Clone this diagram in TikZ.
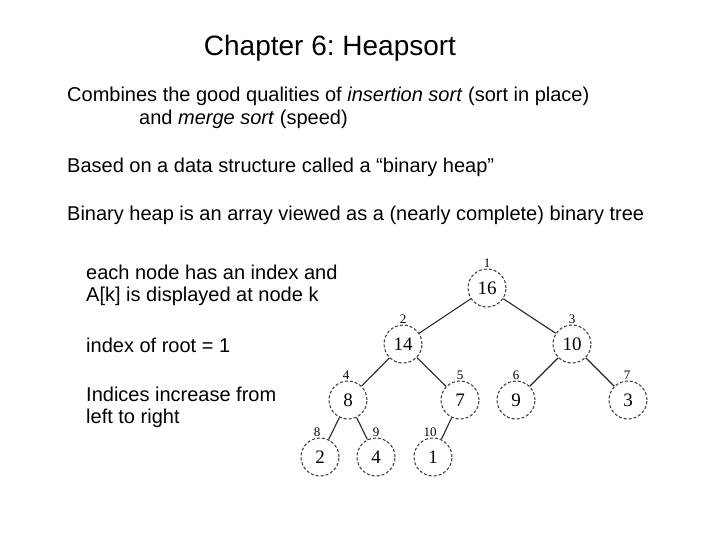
\documentclass[tikz,border=0pt]{standalone}
\usepackage{fontspec}
\setmainfont{Liberation Sans}
\newfontfamily\treefont{Liberation Serif}
\usetikzlibrary{positioning}
\frenchspacing

\begin{document}
\begin{tikzpicture}[
    x=1pt, y=-1pt,
    txt/.style={anchor=west, inner sep=0pt, font=\fontsize{20}{24}\selectfont},
    heapnode/.style={circle, draw=black!80, densely dashed, line width=1pt,
        minimum size=38pt, inner sep=0pt, font=\treefont\fontsize{19}{19}\selectfont},
    idx/.style={inner sep=0pt, font=\treefont\fontsize{13}{13}\selectfont},
    edge/.style={line width=1.1pt, draw=black!85},
]
\useasboundingbox (0,0) rectangle (720,540);

% --- text -------------------------------------------------------------
\node[inner sep=0pt, font=\fontsize{28}{32}\selectfont] (title) at (330,48) {Chapter 6: Heapsort};
\node[txt] (l1) at (67,96)  {Combines the good qualities of \textit{insertion sort} (sort in place)};
\node[txt] (l2) at (139,119) {and \textit{merge sort} (speed)};
\node[txt] (l3) at (67,167) {Based on a data structure called a “binary heap”};
\node[txt] (l4) at (67,215) {Binary heap is an array viewed as a (nearly complete) binary tree};

\node[txt] (s1) at (86,272) {each node has an index and};
\node[txt] (s2) at (86,296) {A[k] is displayed at node k};
\node[txt] (s3) at (86,345) {index of root = 1};
\node[txt] (s4) at (86,394) {Indices increase from};
\node[txt] (s5) at (86,418) {left to right};

% --- heap -------------------------------------------------------------
\node[heapnode] (n1)  at (487,288) {16};
\node[heapnode] (n2)  at (403,344) {14};
\node[heapnode] (n3)  at (572,344) {10};
\node[heapnode] (n4)  at (348,400) {8};
\node[heapnode] (n5)  at (460,400) {7};
\node[heapnode] (n6)  at (516,400) {9};
\node[heapnode] (n7)  at (628,400) {3};
\node[heapnode] (n8)  at (320,457) {2};
\node[heapnode] (n9)  at (376,457) {4};
\node[heapnode] (n10) at (433,457) {1};

% index labels
\foreach \i/\dx in {1/0,2/0,3/0,4/-2,5/0,6/0,7/-1,8/-3,9/0,10/-3}
    \node[idx, above=1pt of n\i, xshift=\dx pt] (i\i) {\i};

% parent -> child edges
\foreach \p/\c in {1/2,1/3,2/4,2/5,3/6,3/7,4/8,4/9,5/10}
    \draw[edge] (n\p) -- (n\c);

\end{tikzpicture}
\end{document}
